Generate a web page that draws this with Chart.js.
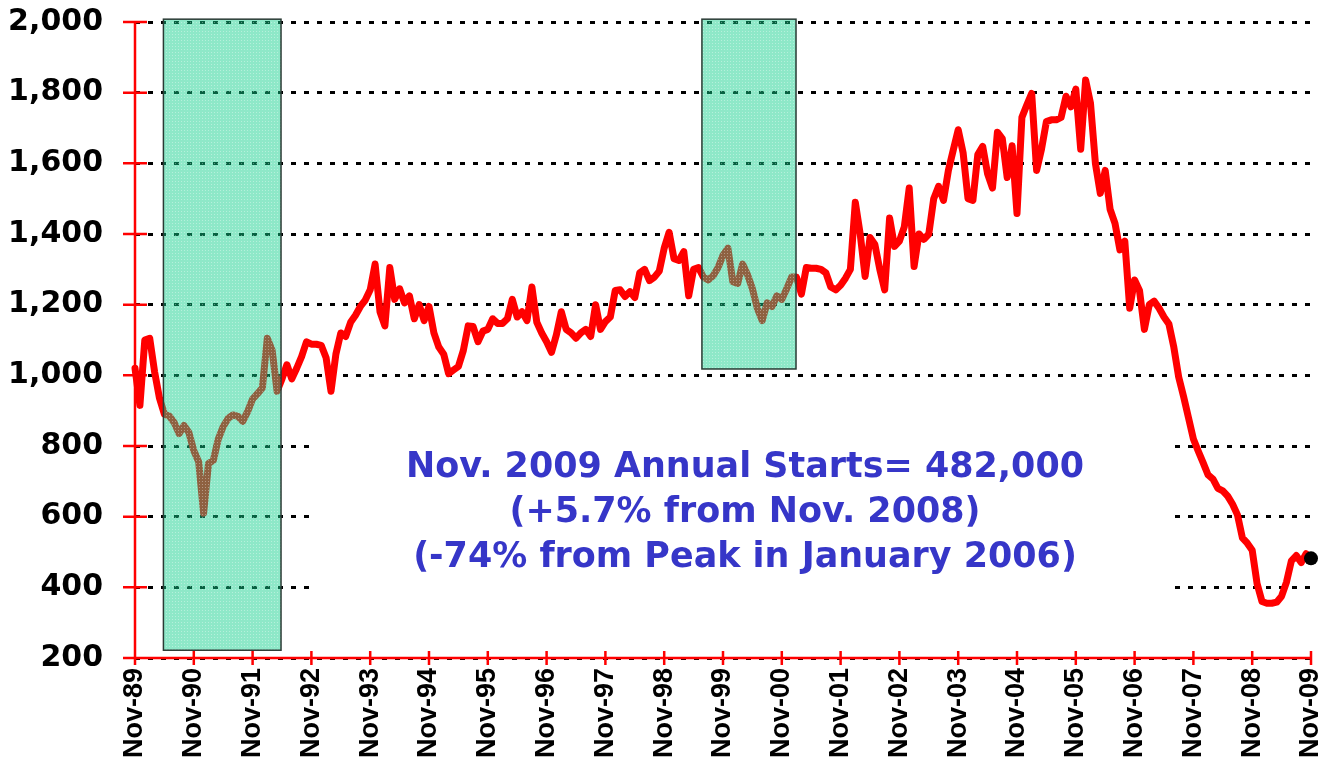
<!DOCTYPE html>
<html>
<head>
  <title>Annual Housing Starts</title>
  <script src="https://cdn.jsdelivr.net/npm/chart.js"></script>
  <style>
    body { margin: 0; background: #fff; }
  </style>
</head>
<body>
  <canvas id="startsChart" width="1328" height="768"></canvas>

  <script>
    // monthly annual-rate starts (thousands), Nov-89 .. Nov-09
    var startsValues = [
      1020, 915, 1100, 1105, 1010, 935, 890, 885, 866, 835, 858, 838,
      787, 755, 610, 750, 760, 820, 855, 878, 888, 884, 870, 898,
      933, 948, 965, 1105, 1070, 955, 990, 1030, 990, 1020, 1053, 1095,
      1088, 1088, 1085, 1050, 955, 1060, 1120, 1110, 1150, 1170, 1195, 1213,
      1242, 1315, 1180, 1140, 1305, 1215, 1245, 1205, 1225, 1160, 1200, 1155,
      1195, 1120, 1080, 1060, 1005, 1015, 1025, 1070, 1140, 1138, 1095, 1125,
      1130, 1160, 1147, 1147, 1160, 1215, 1165, 1180, 1155, 1250, 1150, 1120,
      1095, 1065, 1115, 1180, 1130, 1120, 1105, 1120, 1130, 1110, 1200, 1130,
      1152, 1165, 1240, 1242, 1223, 1237, 1220, 1290, 1300, 1268, 1278, 1295,
      1360, 1405, 1330, 1325, 1350, 1225, 1300, 1305, 1278, 1270, 1282, 1305,
      1340, 1360, 1265, 1260, 1315, 1285, 1245, 1190, 1155, 1205, 1195, 1225,
      1215, 1245, 1278, 1278, 1230, 1305, 1303, 1303, 1300, 1290, 1250, 1242,
      1255, 1275, 1300, 1490, 1400, 1280, 1390, 1370, 1300, 1242, 1445, 1365,
      1380, 1420, 1530, 1308, 1400, 1385, 1400, 1500, 1535, 1495, 1580, 1638,
      1695, 1630, 1500, 1495, 1625, 1648, 1570, 1530, 1688, 1670, 1560, 1650,
      1458, 1730, 1765, 1798, 1580, 1640, 1718, 1723, 1723, 1730, 1790, 1760,
      1810, 1640, 1836, 1770, 1600, 1515, 1580, 1470, 1430, 1355, 1380, 1190,
      1270, 1240, 1130, 1200, 1210, 1190, 1165, 1145, 1080, 995, 940, 880,
      820, 785, 752, 718, 706, 680, 673, 658, 635, 605, 540, 525,
      505, 410, 360, 355, 355, 358, 375, 415, 475, 490, 470, 495,
      482
    ];

    var tickLabels = ['Nov-89', 'Nov-90', 'Nov-91', 'Nov-92', 'Nov-93', 'Nov-94', 'Nov-95',
      'Nov-96', 'Nov-97', 'Nov-98', 'Nov-99', 'Nov-00', 'Nov-01', 'Nov-02', 'Nov-03',
      'Nov-04', 'Nov-05', 'Nov-06', 'Nov-07', 'Nov-08', 'Nov-09'];

    // shaded periods, in month index and value units
    var shadeStart = [5.8, 115.7];
    var shadeEnd = [29.8, 134.9];
    var shadeLow = [222, 1018];
    var shadeHigh = [2008, 2008];

    var noteLines = [
      'Nov. 2009 Annual Starts= 482,000',
      '(+5.7% from Nov. 2008)',
      '(-74% from Peak in January 2006)'
    ];

    var points = startsValues.map(function(v, i) { return { x: i, y: v }; });
    var radii = startsValues.map(function(v, i) { return i === startsValues.length - 1 ? 7 : 0; });

    // dotted fill for the shaded boxes
    var pc = document.createElement('canvas');
    pc.width = 3; pc.height = 3;
    var pctx = pc.getContext('2d');
    pctx.fillStyle = 'rgba(15,206,138,0.47)';
    pctx.fillRect(0, 0, 3, 3);
    pctx.fillStyle = 'rgba(255,255,255,0.35)';
    pctx.fillRect(1, 1, 1, 1);

    var extras = {
      id: 'extras',
      beforeDatasetsDraw: function(chart) {
        // white text box hides the grid under the note
        var ctx = chart.ctx;
        ctx.save();
        ctx.fillStyle = '#fff';
        ctx.fillRect(316, 395, 858, 225);
        ctx.restore();
      },
      afterDatasetsDraw: function(chart) {
        var ctx = chart.ctx;
        var xs = chart.scales.x, ys = chart.scales.y;
        ctx.save();
        var pat = ctx.createPattern(pc, 'repeat');
        for (var i = 0; i < shadeStart.length; i++) {
          var x1 = xs.getPixelForValue(shadeStart[i]);
          var x2 = xs.getPixelForValue(shadeEnd[i]);
          var y1 = ys.getPixelForValue(shadeHigh[i]);
          var y2 = ys.getPixelForValue(shadeLow[i]);
          ctx.fillStyle = pat;
          ctx.fillRect(x1, y1, x2 - x1, y2 - y1);
          ctx.strokeStyle = '#2a3a34';
          ctx.lineWidth = 1.5;
          ctx.strokeRect(x1, y1, x2 - x1, y2 - y1);
        }
        ctx.restore();
      },
      afterDraw: function(chart) {
        var ctx = chart.ctx;
        var xs = chart.scales.x, ys = chart.scales.y;
        var left = chart.chartArea.left, bottom = chart.chartArea.bottom;
        ctx.save();
        ctx.strokeStyle = '#ff0000';
        ctx.lineWidth = 2.5;
        ctx.beginPath();
        ctx.moveTo(left, ys.getPixelForValue(2000));
        ctx.lineTo(left, bottom);
        ctx.moveTo(left - 12, bottom);
        ctx.lineTo(xs.getPixelForValue(240), bottom);
        ys.ticks.forEach(function(t) {
          var y = ys.getPixelForValue(t.value);
          ctx.moveTo(left - 12, y);
          ctx.lineTo(left + 12, y);
        });
        xs.ticks.forEach(function(t) {
          var x = xs.getPixelForValue(t.value);
          ctx.moveTo(x, bottom - 7);
          ctx.lineTo(x, bottom + 7);
        });
        ctx.stroke();

        // note text
        ctx.fillStyle = '#3636c8';
        ctx.font = 'bold 35px "DejaVu Sans"';
        ctx.textAlign = 'center';
        ctx.textBaseline = 'alphabetic';
        var sx = 678 / ctx.measureText(noteLines[0]).width;
        var baselines = [477, 522, 567];
        ctx.translate(745, 0);
        ctx.scale(sx, 1);
        for (var j = 0; j < noteLines.length; j++) {
          ctx.fillText(noteLines[j], 0, baselines[j]);
        }
        ctx.restore();
      }
    };

    var ctx = document.getElementById('startsChart').getContext('2d');
    var startsChart = new Chart(ctx, {
      type: 'line',
      data: {
        datasets: [{
          data: points,
          borderColor: '#ff0000',
          borderWidth: 7,
          borderJoinStyle: 'round',
          borderCapStyle: 'round',
          tension: 0,
          fill: false,
          clip: false,
          pointRadius: radii,
          pointBackgroundColor: '#000',
          pointBorderColor: '#000',
          pointBorderWidth: 0
        }]
      },
      options: {
        responsive: false,
        animation: false,
        layout: { padding: { top: 22, right: 17, left: 0, bottom: 0 } },
        plugins: {
          legend: { display: false },
          tooltip: { enabled: false }
        },
        scales: {
          x: {
            type: 'linear',
            min: 0,
            max: 240,
            afterFit: function(scale) {
              scale.height = 110;
              scale.paddingLeft = 0;
              scale.paddingRight = 0;
            },
            grid: { display: false, drawTicks: false },
            border: { display: false },
            ticks: {
              stepSize: 12,
              autoSkip: false,
              minRotation: 90,
              maxRotation: 90,
              padding: 10,
              color: '#000',
              font: { family: '"Liberation Sans", Arial', weight: 'bold', size: 27 },
              callback: function(v) { return tickLabels[v / 12]; }
            }
          },
          y: {
            min: 200,
            max: 2000,
            afterFit: function(scale) {
              scale.width = 135;
              scale.paddingTop = 0;
              scale.paddingBottom = 0;
            },
            grid: { color: '#000', lineWidth: 3, drawTicks: false },
            border: { display: false, dash: [5, 8] },
            ticks: {
              stepSize: 200,
              padding: 32,
              color: '#000',
              font: { family: '"DejaVu Sans"', weight: 'bold', size: 30 },
              callback: function(v) { return v.toLocaleString('en-US'); }
            }
          }
        }
      },
      plugins: [extras]
    });
  </script>
</body>
</html>
